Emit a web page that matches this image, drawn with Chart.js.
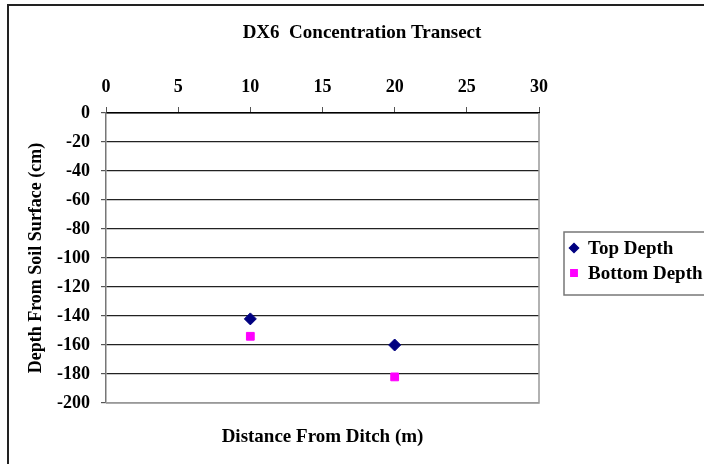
<!DOCTYPE html>
<html>
<head>
<meta charset="utf-8">
<script src="https://cdn.jsdelivr.net/npm/chart.js@4.4.1/dist/chart.umd.min.js"></script>
<style>
  body { margin: 0; background: #fff; }
  #wrap { width: 704px; height: 464px; position: relative; }
</style>
</head>
<body>
<div id="wrap"><canvas id="myChart" width="704" height="464"></canvas></div>
<script>
// data
const seriesNames = ['Top Depth', 'Bottom Depth'];
const distances = [10, 20];
const topDepth = [-142, -160];
const bottomDepth = [-154, -182];
const xTicks = [0, 5, 10, 15, 20, 25, 30];
const yTicks = [0, -20, -40, -60, -80, -100, -120, -140, -160, -180, -200];

const chartTitle = 'DX6  Concentration Transect';
const xTitle = 'Distance From Ditch (m)';
const yTitle = 'Depth From Soil Surface (cm)';

const serif = "'Liberation Serif', 'Times New Roman', serif";

// frame, plot border, titles and legend drawn by hand (Excel look)
const excelBits = {
    id: 'excelBits',
    beforeDatasetsDraw(chart) {
        const ctx = chart.ctx;
        const a = chart.chartArea;
        ctx.save();
        ctx.strokeStyle = '#999';
        ctx.lineWidth = 1.5;
        ctx.beginPath();
        ctx.moveTo(a.right, a.top);
        ctx.lineTo(a.right, a.bottom);
        ctx.lineTo(a.left, a.bottom);
        ctx.stroke();
        ctx.restore();
    },
    afterDraw(chart) {
        const ctx = chart.ctx;
        const a = chart.chartArea;
        ctx.save();
        // outer chart frame
        ctx.strokeStyle = '#222';
        ctx.lineWidth = 2;
        ctx.strokeRect(8, 5, 720, 480);
        // titles
        ctx.fillStyle = '#000';
        ctx.textAlign = 'center';
        ctx.textBaseline = 'middle';
        ctx.font = 'bold 19px ' + serif;
        ctx.fillText(chartTitle, 362, 33);
        ctx.fillText(xTitle, (a.left + a.right) / 2, 437);
        // legend box
        ctx.fillStyle = '#fff';
        ctx.fillRect(564, 232, 160, 63);
        ctx.strokeStyle = '#777';
        ctx.lineWidth = 1.5;
        ctx.strokeRect(564, 232, 160, 63);
        ctx.font = 'bold 19px ' + serif;
        ctx.textAlign = 'left';
        chart.data.datasets.forEach((ds, i) => {
            const y = 248 + i * 25;
            ctx.fillStyle = ds.backgroundColor;
            ctx.strokeStyle = ds.borderColor;
            Chart.helpers.drawPoint(ctx, {pointStyle: ds.pointStyle, radius: 4.5, borderWidth: 1}, 574, y);
            ctx.fillStyle = '#000';
            ctx.fillText(ds.label, 588, y + 1);
        });
        ctx.restore();
    }
};

const canvas = document.getElementById('myChart');
const myChart = new Chart(canvas, {
    type: 'scatter',
    data: {
        datasets: [{
            label: seriesNames[0],
            data: distances.map((d, i) => ({x: d, y: topDepth[i]})),
            pointStyle: 'rectRot',
            backgroundColor: '#000080',
            borderColor: '#000080',
            borderWidth: 1,
            pointRadius: 6
        }, {
            label: seriesNames[1],
            data: distances.map((d, i) => ({x: d, y: bottomDepth[i]})),
            pointStyle: 'rect',
            backgroundColor: '#FF00FF',
            borderColor: '#FF00FF',
            borderWidth: 1,
            pointRadius: 5.5
        }]
    },
    options: {
        responsive: false,
        animation: false,
        layout: { padding: { left: 0, right: 165, top: 0, bottom: 61 } },
        plugins: {
            legend: { display: false },
            tooltip: { enabled: false }
        },
        scales: {
            x: {
                type: 'linear',
                position: 'top',
                min: 0,
                max: 30,
                afterBuildTicks: (s) => { s.ticks = xTicks.map(v => ({value: v})); },
                afterFit: (s) => { s.height = 113; },
                ticks: { color: '#000', font: { family: serif, size: 18, weight: 'bold' }, padding: 9 },
                grid: { drawOnChartArea: false, drawTicks: true, tickLength: 6, color: '#555' },
                border: { display: true, color: '#000', width: 1.5 }
            },
            y: {
                type: 'linear',
                min: -200,
                max: 0,
                afterBuildTicks: (s) => { s.ticks = yTicks.map(v => ({value: v})); },
                afterFit: (s) => { s.width = 106; },
                ticks: { color: '#000', font: { family: serif, size: 18, weight: 'bold' }, padding: 11 },
                grid: {
                    color: (c) => c.tick && c.tick.value === -200 ? '#999' : '#222',
                    lineWidth: 1.2,
                    tickLength: 5,
                    tickColor: '#555'
                },
                border: { display: true, color: '#777', width: 1.5 },
                title: {
                    display: true,
                    text: yTitle,
                    color: '#000',
                    font: { family: serif, size: 18, weight: 'bold' },
                    padding: { top: 26, bottom: 0 }
                }
            }
        }
    },
    plugins: [excelBits]
});
</script>
</body>
</html>
